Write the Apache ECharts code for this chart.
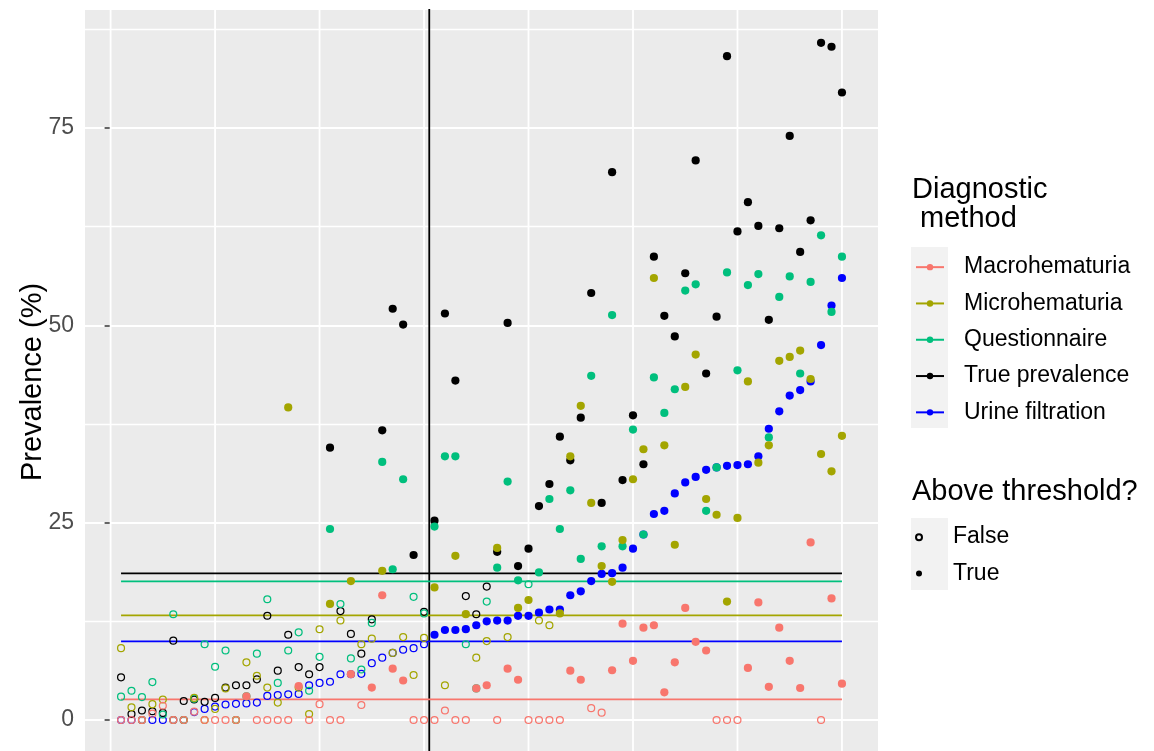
<!DOCTYPE html>
<html>
<head>
<meta charset="utf-8">
<script src="https://cdn.jsdelivr.net/npm/echarts@6/dist/echarts.min.js"></script>
<style>
html, body { margin: 0; padding: 0; background: #fff; }
#chart { width: 1154px; height: 751px; }
</style>
</head>
<body>
<div id="chart"></div>
<script>
// methods, colours and the horizontal threshold of each method
var methods = ['Macrohematuria', 'Microhematuria', 'Questionnaire', 'True prevalence', 'Urine filtration'];
var colors = ['#F8766D', '#A3A500', '#00BF7D', '#000000', '#0000FF'];
var thresholds = [2.6, 13.26, 17.57, 18.58, 9.97];

// prevalence (%) per site, sites 1..70 ordered by urine filtration
var macro = [0, 0, 0, 0.8, 1.8, 0, 0, 1.05, 0, 0,
    0, 0, 3.0, 0, 0, 0, 0, 4.3, 0, 2.0,
    0, 0, 5.8, 1.9, 4.1, 15.8, 6.5, 5.0, 0, 0,
    0, 1.2, 0, 0, 4.0, 4.4, 0, 6.5, 5.1, 0,
    0, 0, 0, 6.25, 5.1, 1.5, 0.93, 6.3, 12.2, 7.5,
    11.7, 12.0, 3.5, 7.3, 14.2, 9.9, 8.8, 0, 0, 0,
    6.6, 14.9, 4.2, 11.7, 7.5, 4.05, 22.5, 0, 15.4, 4.6];
var micro = [9.1, 1.6, 0, 2.0, 2.6, 0, 0, 2.8, 0, 1.4,
    4.0, 0, 7.3, 5.6, 4.1, 2.2, 39.6, 4.1, 0.76, 11.5,
    14.7, 12.6, 17.6, 9.6, 10.3, 18.9, 8.5, 10.5, 5.7, 10.4,
    16.8, 4.4, 20.8, 13.4, 7.9, 10.0, 21.8, 10.5, 14.2, 15.2,
    12.6, 12.0, 13.5, 33.4, 39.8, 27.5, 19.5, 17.5, 22.8, 30.5,
    34.3, 56.0, 34.8, 22.2, 42.2, 46.3, 28.0, 26.0, 15.0, 25.6,
    42.9, 32.6, 34.8, 45.5, 46.0, 46.8, 43.2, 33.7, 31.5, 36.0];
var quest = [2.95, 3.7, 2.9, 4.8, 0.7, 13.4, 0, 2.7, 9.6, 6.75,
    8.8, 0, 3.0, 8.4, 15.3, 4.7, 8.8, 11.1, 3.7, 8.0,
    24.2, 14.7, 7.8, 6.4, 12.3, 32.7, 19.1, 30.5, 15.6, 13.5,
    24.5, 33.4, 33.4, 9.6, 4.0, 15.0, 19.3, 30.2, 17.7, 17.2,
    18.7, 28.0, 24.2, 29.1, 20.4, 43.6, 22.0, 51.3, 22.0, 36.8,
    23.5, 43.4, 38.9, 41.9, 54.4, 55.2, 26.5, 32.0, 56.7, 44.3,
    55.1, 56.5, 35.8, 53.6, 56.2, 43.9, 55.5, 61.4, 51.7, 58.7];
var truePrev = [5.4, 0.76, 1.2, 1.1, 0.9, 10.05, 2.4, 2.6, 2.3, 2.8,
    4.1, 4.4, 4.4, 5.15, 13.2, 6.25, 10.8, 6.7, 5.8, 6.7,
    34.5, 13.8, 10.9, 8.4, 12.75, 36.7, 52.1, 50.1, 20.9, 13.7,
    25.25, 51.5, 43.0, 15.7, 13.4, 16.9, 21.3, 50.3, 19.5, 21.7,
    27.1, 29.9, 35.9, 32.9, 38.3, 54.1, 27.5, 69.4, 30.4, 38.6,
    32.4, 58.7, 51.2, 48.6, 56.6, 70.9, 43.9, 51.1, 84.1, 61.9,
    65.6, 62.6, 50.7, 62.3, 74.0, 59.3, 63.3, 85.8, 85.3, 79.5];
var urine = [0, 0, 0, 0, 0, 0, 0, 1.0, 1.4, 1.7,
    1.96, 2.05, 2.1, 2.2, 3.05, 3.15, 3.25, 3.3, 4.4, 4.7,
    4.85, 5.8, 5.8, 5.85, 7.2, 7.9, 8.5, 8.9, 9.1, 9.6,
    10.8, 11.4, 11.4, 11.5, 12.0, 12.5, 12.6, 12.6, 13.2, 13.2,
    13.6, 14.0, 14.0, 15.8, 16.3, 17.6, 18.5, 18.6, 19.3, 21.7,
    23.5, 26.1, 26.5, 28.7, 30.1, 30.8, 31.7, 32.0, 32.2, 32.3,
    32.4, 33.4, 36.9, 39.1, 41.1, 41.8, 42.9, 47.5, 52.5, 56.0];
var values = [macro, micro, quest, truePrev, urine];

var cutIndex = 30.5;          // vertical reference line between sites
var xBreaks = [0, 10, 20, 30, 40, 50, 60, 70];
var xMin = -2.45, xMax = 73.45;
var yMin = -25, yMax = 90.08;

var font = '"Liberation Sans", Arial, sans-serif';

function points(vals, thr, above) {
    var out = [];
    for (var i = 0; i < vals.length; i++) {
        if ((vals[i] > thr) === above) out.push([i + 1, vals[i]]);
    }
    return out;
}

var series = [];

// white vertical grid lines
series.push({
    type: 'custom', name: 'xgrid', silent: true, z: 1,
    data: xBreaks.map(function (b) { return [b]; }),
    encode: { x: 0 },
    renderItem: function (params, api) {
        var a = api.coord([api.value(0), yMax]);
        var b = api.coord([api.value(0), yMin]);
        return { type: 'line', shape: { x1: a[0], y1: a[1], x2: b[0], y2: b[1] },
                 style: { stroke: '#ffffff', lineWidth: 1.8 } };
    }
});

// threshold lines, one per method
for (var m = 0; m < methods.length; m++) {
    var n = values[m].length;
    series.push({
        type: 'line', name: methods[m], z: 2,
        data: [[1, thresholds[m]], [n, thresholds[m]]],
        symbol: 'circle', showSymbol: false, symbolSize: 6,
        itemStyle: { color: colors[m] },
        lineStyle: { color: colors[m], width: 1.8 },
        emphasis: { disabled: true }
    });
}

// vertical cut line
series.push({
    type: 'custom', name: 'cut', silent: true, z: 2,
    data: [[cutIndex]],
    encode: { x: 0 },
    renderItem: function (params, api) {
        var a = api.coord([api.value(0), yMax]);
        var b = api.coord([api.value(0), yMin]);
        return { type: 'line', shape: { x1: a[0], y1: a[1], x2: b[0], y2: b[1] },
                 style: { stroke: '#000000', lineWidth: 1.8 } };
    }
});

// points: blue and black first so the others sit on top
var drawOrder = [4, 3, 2, 1, 0];
drawOrder.forEach(function (m) {
    series.push({
        type: 'scatter', name: methods[m] + ' (open)', z: 3,
        data: points(values[m], thresholds[m], false),
        symbol: 'circle', symbolSize: 6.9,
        itemStyle: { color: 'rgba(0,0,0,0)', borderColor: colors[m], borderWidth: 1.25, opacity: 1 },
        emphasis: { disabled: true }
    });
    series.push({
        type: 'scatter', name: methods[m] + ' (filled)', z: 3,
        data: points(values[m], thresholds[m], true),
        symbol: 'circle', symbolSize: 8.2,
        itemStyle: { color: colors[m], opacity: 1 },
        emphasis: { disabled: true }
    });
});

// legend-only entries for the fill key
series.push({ type: 'scatter', name: 'False', data: [], symbol: 'circle',
    itemStyle: { color: 'rgba(0,0,0,0)', borderColor: '#000', borderWidth: 1, opacity: 1 } });
series.push({ type: 'scatter', name: 'True', data: [], symbol: 'circle',
    itemStyle: { color: '#000', opacity: 1 } });

var chart = echarts.init(document.getElementById('chart'));
chart.setOption({
    animation: false,
    backgroundColor: '#ffffff',
    grid: {
        left: 85, top: 9, width: 793, height: 908.3,
        outerBoundsMode: 'none', containLabel: false,
        show: true, backgroundColor: '#EBEBEB', borderWidth: 0
    },
    xAxis: {
        type: 'value', min: xMin, max: xMax,
        axisLine: { show: false }, axisTick: { show: false },
        axisLabel: { show: false }, splitLine: { show: false }
    },
    yAxis: {
        type: 'value', min: yMin, max: yMax, interval: 25,
        axisLine: { show: false },
        axisTick: { show: true, length: 6, lineStyle: { color: '#333333', width: 1.5 } },
        axisLabel: { margin: 11, color: '#4D4D4D', fontSize: 23, fontFamily: font,
            showMaxLabel: false },
        splitLine: { show: true, lineStyle: { color: '#ffffff', width: 1.8 } },
        minorTick: { show: false, splitNumber: 2 },
        minorSplitLine: { show: true, lineStyle: { color: '#ffffff', width: 1.4 } }
    },
    legend: [{
        data: methods,
        orient: 'vertical', left: 915, top: 249, padding: 0,
        itemWidth: 28, itemHeight: 8, itemGap: 0,
        selectedMode: false,
        textStyle: { fontSize: 23, fontFamily: font, color: '#000', lineHeight: 36.3,
            padding: [0, 0, 0, 15] }
    }, {
        data: ['False', 'True'],
        orient: 'vertical', left: 915, top: 519, padding: 0,
        itemWidth: 28, itemHeight: 6, itemGap: 0,
        selectedMode: false,
        textStyle: { fontSize: 23, fontFamily: font, color: '#000', lineHeight: 36.3,
            padding: [0, 0, 0, 15] }
    }],
    graphic: [
        { type: 'rect', z: -1, shape: { x: 911, y: 247, width: 37, height: 181 },
          style: { fill: '#F2F2F2' } },
        { type: 'rect', z: -1, shape: { x: 911, y: 518, width: 37, height: 72 },
          style: { fill: '#F2F2F2' } },
        { type: 'text', left: 912, top: 175,
          style: { text: 'Diagnostic\n method', font: '29px ' + font, fill: '#000', lineHeight: 29 } },
        { type: 'text', left: 912, top: 477,
          style: { text: 'Above threshold?', font: '29px ' + font, fill: '#000' } },
        { type: 'text', x: 33, y: 382, rotation: Math.PI / 2,
          style: { text: 'Prevalence (%)', font: '29px ' + font, fill: '#000',
                   align: 'center', verticalAlign: 'middle' } }
    ],
    series: series
});
</script>
</body>
</html>
